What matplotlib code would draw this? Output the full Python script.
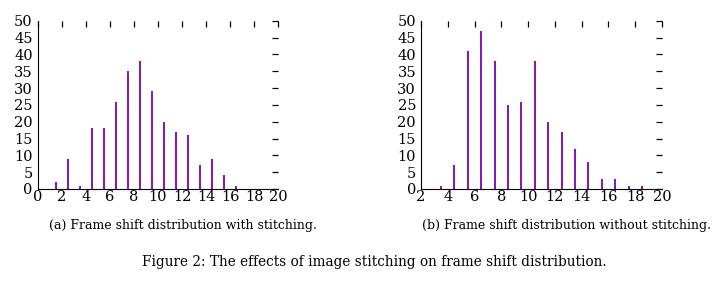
import matplotlib
matplotlib.use("Agg")
import matplotlib.pyplot as plt

# frame shift bins (centres) and counts
with_x = [1.5, 2.5, 3.5, 4.5, 5.5, 6.5, 7.5, 8.5, 9.5, 10.5, 11.5, 12.5, 13.5, 14.5, 15.5, 16.5]
with_y = [2, 9, 1, 18, 18, 26, 35, 38, 29, 20, 17, 16, 7, 9, 4, 1]

without_x = [3.5, 4.5, 5.5, 6.5, 7.5, 8.5, 9.5, 10.5, 11.5, 12.5, 13.5, 14.5, 15.5, 16.5, 17.5, 18.5]
without_y = [1, 7, 41, 47, 38, 25, 26, 38, 20, 17, 12, 8, 3, 3, 1, 1]

plt.rcParams['font.family'] = ['DejaVu Serif']
color = '#8213b8'

fig = plt.figure(figsize=(7.13, 2.82), dpi=100)
fig.patch.set_facecolor('white')

def panel(rect, xs, ys, xmin):
    ax = fig.add_axes(rect)
    ax.vlines(xs, 0, ys, color=color, linewidth=1.4)
    ax.set_xlim(xmin, 20)
    ax.set_ylim(0, 50)
    ax.set_xticks(range(xmin, 21, 2))
    ax.set_yticks(range(0, 51, 5))
    ax.spines['top'].set_visible(False)
    ax.spines['right'].set_visible(False)
    # gnuplot-ish: only the mirrored ticks on top/right are visible
    ax.tick_params(direction='in', top=True, right=True, bottom=False, left=False,
                   length=4, width=0.9, labelsize=10.5)
    ax.tick_params(axis='x', pad=1)
    ax.tick_params(axis='y', pad=3.6)
    return ax

panel([0.053, 0.330, 0.337, 0.596], with_x, with_y, 0)
panel([0.5905, 0.330, 0.338, 0.596], without_x, without_y, 2)

fig.text(0.256, 0.199, '(a) Frame shift distribution with stitching.', ha='center', va='center', fontsize=9)
fig.text(0.794, 0.199, '(b) Frame shift distribution without stitching.', ha='center', va='center', fontsize=9)
fig.text(0.525, 0.071, 'Figure 2: The effects of image stitching on frame shift distribution.',
         ha='center', va='center', fontsize=9.8)

fig.savefig('out.png', dpi=100, facecolor='white')
